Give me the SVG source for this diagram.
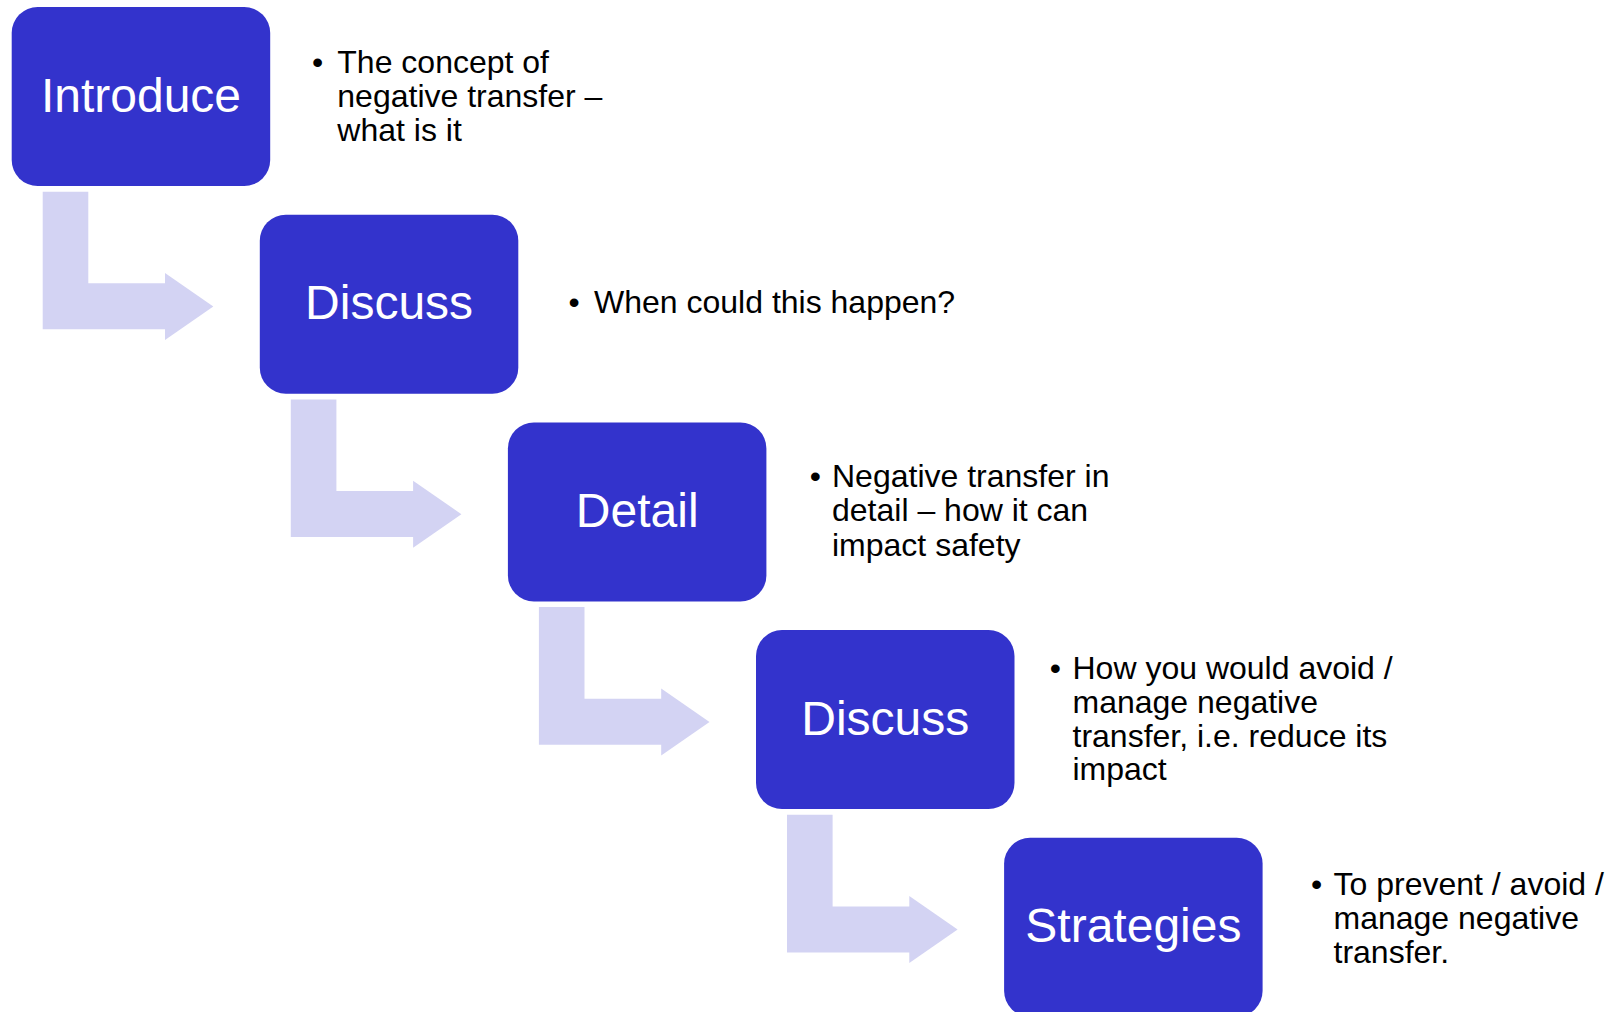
<svg xmlns="http://www.w3.org/2000/svg" xmlns:xlink="http://www.w3.org/1999/xlink" width="1623" height="1012" viewBox="0 0 1623 1012">
<style>
.box{fill:#3333CC;}
.lbl{font-family:"Liberation Sans",Arial,sans-serif;font-size:48px;fill:#FFFFFF;text-anchor:middle;}
.txt{font-family:"Liberation Sans",Arial,sans-serif;font-size:32px;fill:#000000;}
.arr{fill:#D3D3F3;}
</style>
<defs>
<path id="bent" d="M42.7 191.7 H88.3 V283.3 H165 V273 L213.3 306.5 L165 340 V329.3 H42.7 Z"/>
</defs>
<rect width="1623" height="1012" fill="#FFFFFF"/>
<g id="connectors" class="arr">
<use xlink:href="#bent" href="#bent"/>
<use xlink:href="#bent" href="#bent" transform="translate(248.1,207.7)"/>
<use xlink:href="#bent" href="#bent" transform="translate(496.2,415.4)"/>
<use xlink:href="#bent" href="#bent" transform="translate(744.3,623.1)"/>
</g>
<g id="node-introduce">
<rect class="box" x="11.7" y="7" width="258.5" height="179" rx="26"/>
<text class="lbl" x="141" y="111.5">Introduce</text>
<text class="txt" x="312" y="72.7">•</text>
<text class="txt" x="337.3" y="72.7">The concept of</text>
<text class="txt" x="337.3" y="106.7">negative transfer –</text>
<text class="txt" x="337.3" y="140.7">what is it</text>
</g>
<g id="node-discuss-1">
<rect class="box" x="259.8" y="214.7" width="258.5" height="179" rx="26"/>
<text class="lbl" x="389.1" y="319.2">Discuss</text>
<text class="txt" x="568.5" y="313.3">•</text>
<text class="txt" x="594" y="313.3">When could this happen?</text>
</g>
<g id="node-detail">
<rect class="box" x="507.9" y="422.4" width="258.5" height="179" rx="26"/>
<text class="lbl" x="637.2" y="526.9">Detail</text>
<text class="txt" x="809.7" y="486.7">•</text>
<text class="txt" x="832" y="486.7">Negative transfer in</text>
<text class="txt" x="832" y="521.2">detail – how it can</text>
<text class="txt" x="832" y="555.7">impact safety</text>
</g>
<g id="node-discuss-2">
<rect class="box" x="756" y="630.1" width="258.5" height="179" rx="26"/>
<text class="lbl" x="885.3" y="734.6">Discuss</text>
<text class="txt" x="1049.7" y="679.3">•</text>
<text class="txt" x="1072.5" y="679.3">How you would avoid /</text>
<text class="txt" x="1072.5" y="712.9">manage negative</text>
<text class="txt" x="1072.5" y="746.5">transfer, i.e. reduce its</text>
<text class="txt" x="1072.5" y="780.1">impact</text>
</g>
<g id="node-strategies">
<rect class="box" x="1004.1" y="837.8" width="258.5" height="179" rx="26"/>
<text class="lbl" x="1133.4" y="942.3">Strategies</text>
<text class="txt" x="1311" y="895">•</text>
<text class="txt" x="1333.5" y="895">To prevent / avoid /</text>
<text class="txt" x="1333.5" y="929.2">manage negative</text>
<text class="txt" x="1333.5" y="963.4">transfer.</text>
</g>
</svg>
